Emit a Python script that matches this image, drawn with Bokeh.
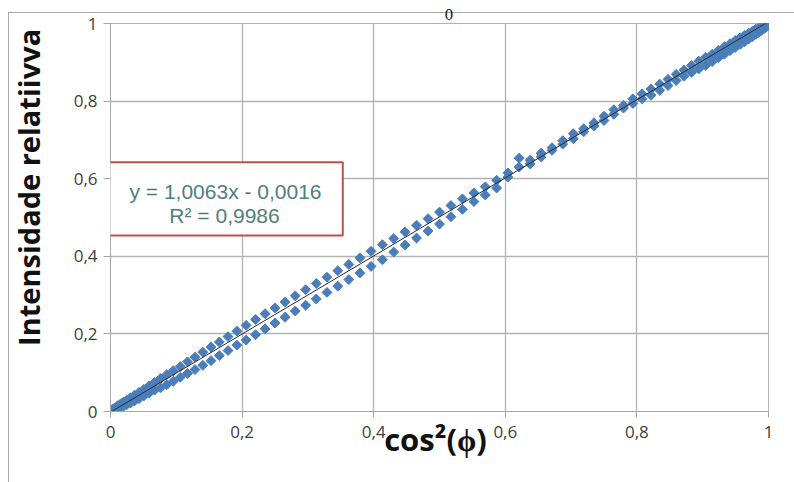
import math
from bokeh.plotting import figure
from bokeh.models import FixedTicker, BoxAnnotation, Label, Title
from bokeh.embed import file_html
from bokeh.resources import INLINE

# ---- data ----
cos2_phi = [0.0, 0.0003, 0.0012, 0.0027, 0.0049, 0.0076, 0.0109, 0.0149, 0.0194, 0.0245,
            0.0302, 0.0364, 0.0432, 0.0506, 0.0585, 0.0670, 0.0760, 0.0855, 0.0955, 0.1060,
            0.1170, 0.1284, 0.1403, 0.1527, 0.1654, 0.1786, 0.1922, 0.2061, 0.2204, 0.2350,
            0.2500, 0.2653, 0.2808, 0.2966, 0.3127, 0.3290, 0.3455, 0.3622, 0.3790, 0.3960,
            0.4132, 0.4304, 0.4477, 0.4651, 0.4826, 0.5000, 0.5174, 0.5349, 0.5523, 0.5696,
            0.5868, 0.6040, 0.6210, 0.6378, 0.6545, 0.6710, 0.6873, 0.7034, 0.7192, 0.7347,
            0.7500, 0.7650, 0.7796, 0.7939, 0.8078, 0.8214, 0.8346, 0.8473, 0.8597, 0.8716,
            0.8830, 0.8940, 0.9045, 0.9145, 0.9240, 0.9330, 0.9415, 0.9494, 0.9568, 0.9636,
            0.9698, 0.9755, 0.9806, 0.9851, 0.9891, 0.9924, 0.9951, 0.9973, 0.9988, 0.9997,
            1.0000]

intens_up = [0.003, 0.002, 0.004, 0.005, 0.007, 0.010, 0.015, 0.019, 0.024, 0.029,
             0.035, 0.042, 0.049, 0.057, 0.066, 0.075, 0.085, 0.095, 0.105, 0.116,
             0.128, 0.140, 0.153, 0.166, 0.179, 0.193, 0.207, 0.222, 0.237, 0.252,
             0.267, 0.282, 0.298, 0.314, 0.330, 0.346, 0.363, 0.379, 0.396, 0.413,
             0.430, 0.446, 0.463, 0.480, 0.497, 0.514, 0.531, 0.548, 0.563, 0.579,
             0.596, 0.615, 0.630, 0.648, 0.666, 0.680, 0.698, 0.716, 0.729, 0.744,
             0.761, 0.778, 0.789, 0.806, 0.819, 0.831, 0.844, 0.856, 0.869, 0.880,
             0.892, 0.903, 0.913, 0.921, 0.931, 0.940, 0.948, 0.956, 0.963, 0.969,
             0.975, 0.980, 0.985, 0.989, 0.992, 0.995, 0.997, 0.999, 1.000, 1.000,
             1.000]

intens_lo = [0.000, 0.000, 0.000, 0.000, 0.001, 0.004, 0.006, 0.009, 0.013, 0.017,
             0.022, 0.027, 0.033, 0.040, 0.047, 0.055, 0.061, 0.069, 0.078, 0.088,
             0.098, 0.108, 0.119, 0.131, 0.144, 0.157, 0.171, 0.184, 0.198, 0.213,
             0.228, 0.243, 0.259, 0.274, 0.290, 0.307, 0.323, 0.340, 0.357, 0.374,
             0.391, 0.411, 0.429, 0.447, 0.465, 0.483, 0.502, 0.521, 0.541, 0.558,
             0.576, 0.604, 0.653, 0.638, 0.656, 0.673, 0.689, 0.703, 0.721, 0.736,
             0.750, 0.766, 0.782, 0.794, 0.806, 0.815, 0.828, 0.840, 0.853, 0.864,
             0.874, 0.883, 0.892, 0.902, 0.912, 0.921, 0.930, 0.938, 0.946, 0.953,
             0.960, 0.966, 0.972, 0.977, 0.982, 0.986, 0.989, 0.992, 0.994, 0.996,
             0.997]

fit_slope = 1.0063
fit_intercept = -0.0016

x_ticks = [0, 0.2, 0.4, 0.6, 0.8, 1]
x_tick_labels = ["0", "0,2", "0,4", "0,6", "0,8", "1"]
y_ticks = [0, 0.2, 0.4, 0.6, 0.8, 1]
y_tick_labels = ["0", "0,2", "0,4", "0,6", "0,8", "1"]

eq_text = "y = 1,0063x - 0,0016"
r2_text = "R² = 0,9986"
x_title = "cos²(ϕ)"
y_title = "Intensidade relatiivva"
top_fragment = "0"

NBSP = "\u00a0"

# ---- figure ----
p = figure(width=794, height=482, x_range=(0, 1), y_range=(0, 1),
           output_backend="svg", toolbar_location=None,
           min_border_left=110, min_border_right=26,
           min_border_top=23, min_border_bottom=71)
p.background_fill_color = "white"
p.border_fill_color = None
p.outline_line_color = "#b3b3b3"
# outer chart-area border of the screenshot (top and left edges)
p.styles = {
    "background": "linear-gradient(#a8a8a8, #a8a8a8) 8px 12px / 1px 100% no-repeat, "
                  "linear-gradient(#a8a8a8, #a8a8a8) 8px 12px / 100% 1px no-repeat, white"
}

GRID = "#b3b3b3"
AX = "#a6a6a6"
p.xaxis.ticker = FixedTicker(ticks=x_ticks)
p.yaxis.ticker = FixedTicker(ticks=y_ticks)
p.xaxis.major_label_overrides = {t: l for t, l in zip(x_ticks, x_tick_labels)}
p.yaxis.major_label_overrides = {t: l for t, l in zip(y_ticks, y_tick_labels)}
for ax in (p.xaxis, p.yaxis):
    ax.axis_line_color = AX
    ax.major_tick_line_color = AX
    ax.minor_tick_line_color = None
    ax.major_tick_in = 0
    ax.major_label_text_font = "Open Sans"
    ax.major_label_text_font_size = "17px"
    ax.major_label_text_color = "#404040"
    ax.axis_label_text_font = "Open Sans"
    ax.axis_label_text_font_style = "bold"
    ax.axis_label_text_color = "#111111"
p.xaxis.major_tick_out = 6
p.yaxis.major_tick_out = 7
p.xaxis.major_label_standoff = 8
p.yaxis.major_label_standoff = 6

# x title, pulled up into the tick-label row and nudged left
p.xaxis.axis_label = x_title + NBSP
p.xaxis.axis_label_text_font_size = "31px"
p.xaxis.axis_label_standoff = -23

# y title, placed above the frame centre like the reference
p.yaxis.axis_label = NBSP * 8 + y_title
p.yaxis.axis_label_text_font_size = "29px"
p.yaxis.axis_label_standoff = 23

p.grid.grid_line_color = GRID
p.grid.grid_line_width = 1.3

BLUE = "#4a7ebb"
p.scatter(cos2_phi, intens_up, marker="square", angle=math.pi / 4, size=7,
          fill_color=BLUE, line_color=BLUE)
p.scatter(cos2_phi, intens_lo, marker="square", angle=math.pi / 4, size=7,
          fill_color=BLUE, line_color=BLUE)

x0, x1 = min(cos2_phi), max(cos2_phi)
p.line([x0, x1], [fit_slope * x0 + fit_intercept, fit_slope * x1 + fit_intercept],
       line_color="#2a2a2a", line_width=1)

# trendline label box
p.add_layout(BoxAnnotation(left=-0.0041, right=0.353, bottom=0.4536, top=0.6425,
                           fill_color="white", fill_alpha=1,
                           line_color="#c0504d", line_alpha=1, line_width=2))
TEAL = "#4f7e7e"
p.add_layout(Label(x=0.1748, y=0.567, text=eq_text, text_align="center",
                   text_baseline="alphabetic", text_font="Liberation Sans",
                   text_font_size="21px", text_color=TEAL))
p.add_layout(Label(x=0.1733, y=0.505, text=r2_text, text_align="center",
                   text_baseline="alphabetic", text_font="Liberation Sans",
                   text_font_size="21px", text_color=TEAL))

# fragment of the equation above the chart (cut off in the screenshot)
p.add_layout(Title(text=top_fragment, align="left", offset=334, vertical_align="top",
                   standoff=4, text_font="DejaVu Serif",
                   text_font_style="normal", text_font_size="14px",
                   text_color="#111111"), "above")

open("out.html", "w").write(file_html(p, INLINE))
